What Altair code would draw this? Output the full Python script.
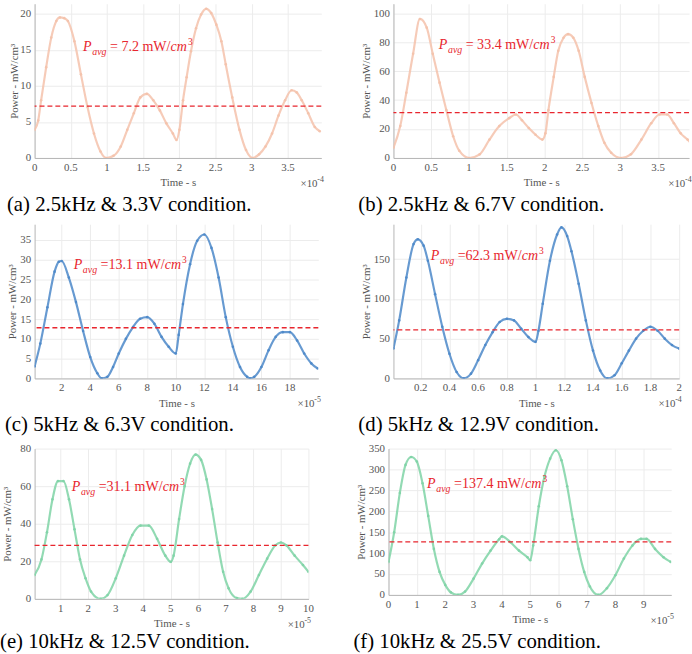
import altair as alt
import pandas as pd

# ---------------- data (time in units of the axis multiplier) ----------------
a_t = [0, 0.05, 0.09, 0.16, 0.23, 0.30, 0.35, 0.41, 0.46, 0.55, 0.64, 0.73, 0.82, 0.91, 0.99, 1.09, 1.19, 1.28,
       1.37, 1.46, 1.55, 1.64, 1.73, 1.82, 1.91, 1.96, 2.0, 2.05, 2.10, 2.16, 2.23, 2.30, 2.37, 2.44, 2.51, 2.58,
       2.64, 2.73, 2.83, 2.92, 3.01, 3.10, 3.19, 3.28, 3.37, 3.46, 3.55, 3.62, 3.69, 3.78, 3.87, 3.94]
a_p = [3.9, 5.2, 8.0, 12.6, 16.7, 19.0, 19.5, 19.4, 19.0, 16.2, 11.6, 7.1, 3.4, 0.9, 0.0, 0.3, 1.6, 3.9,
       6.2, 8.4, 8.9, 8.0, 6.6, 4.8, 3.4, 2.5, 3.9, 8.0, 11.2, 14.8, 18.0, 19.9, 20.7, 20.1, 18.5, 16.2,
       13.0, 8.4, 3.9, 1.1, 0.0, 0.5, 1.6, 3.4, 5.9, 8.0, 9.4, 9.1, 8.0, 6.2, 4.3, 3.7]

b_t = [0, 0.09, 0.17, 0.26, 0.35, 0.44, 0.52, 0.61, 0.70, 0.79, 0.87, 1.0, 1.14, 1.27, 1.40, 1.53, 1.62, 1.70,
       1.79, 1.88, 1.97, 2.01, 2.05, 2.12, 2.18, 2.25, 2.31, 2.38, 2.45, 2.53, 2.62, 2.71, 2.79, 2.88, 3.01,
       3.14, 3.28, 3.41, 3.52, 3.62, 3.71, 3.80, 3.89, 3.95]
b_p = [7, 22, 45, 72, 96, 90, 72, 52, 33, 15, 5, 0, 2.5, 12.7, 22, 27.5, 30, 26,
       20.7, 16, 12.7, 17, 33, 56, 74, 83, 85.5, 83, 74, 56, 38, 22, 10.5, 3.6, 0,
       2.5, 12.7, 24, 30, 30, 24, 17, 12.7, 9.3]

c_t = [0.1, 0.5, 1.0, 1.5, 1.8, 2.0, 2.5, 3.0, 3.5, 4.0, 4.5, 4.8, 5.2, 5.6, 6.0, 6.5, 7.0, 7.5, 8.0, 8.5,
       9.0, 9.5, 10.0, 10.2, 10.5, 11.0, 11.5, 12.0, 12.5, 13.0, 13.5, 14.0, 14.5, 15.0, 15.2, 15.5, 16.0,
       16.5, 17.0, 17.5, 18.0, 18.5, 19.0, 19.5, 19.95]
c_p = [3, 8.8, 18, 27, 29.5, 29.7, 25.5, 19.3, 12, 5.4, 1.3, 0, 0.4, 2.9, 6.3, 10, 13, 15.1, 15.5, 13.8,
       10.5, 8, 6.3, 11, 18.8, 28.9, 34.8, 36.4, 33, 25.5, 15.5, 8, 2.9, 0.4, 0, 0.4, 2.9,
       7.1, 10.5, 11.7, 11.7, 9.6, 6.3, 3.8, 2.5]

d_t = [0.01, 0.05, 0.10, 0.15, 0.18, 0.22, 0.25, 0.30, 0.35, 0.40, 0.45, 0.50, 0.55, 0.60, 0.65, 0.70, 0.75,
       0.80, 0.85, 0.90, 0.95, 1.00, 1.02, 1.05, 1.10, 1.15, 1.18, 1.22, 1.25, 1.30, 1.35, 1.40, 1.45, 1.50,
       1.55, 1.60, 1.65, 1.70, 1.75, 1.80, 1.85, 1.90, 1.95, 2.00]
d_p = [37.5, 73, 127, 169, 175, 167, 148, 106, 65, 31, 8, 0, 6, 23, 42, 58, 71,
       75, 73, 62.5, 52, 46, 60, 94, 148, 181, 190, 179, 160, 119, 73, 35, 10, 0,
       4, 19, 35, 50, 60, 65, 60, 50, 42, 37.5]

e_t = [0.05, 0.3, 0.5, 0.7, 0.9, 1.1, 1.3, 1.5, 1.7, 1.9, 2.1, 2.45, 2.7, 3.0, 3.3, 3.6, 3.9, 4.2, 4.5, 4.8,
       5.0, 5.1, 5.3, 5.5, 5.7, 5.9, 6.1, 6.3, 6.5, 6.7, 6.9, 7.1, 7.4, 7.6, 7.9, 8.2, 8.5, 8.8, 9.0, 9.2,
       9.5, 9.8, 10.0]
e_p = [12.7, 21, 35.5, 53, 62.7, 62.7, 53, 37, 21, 11, 3.9, 0, 2, 11, 23, 34, 39, 39, 32, 23,
       19.7, 23, 42.5, 60, 72, 76.8, 74, 63.6, 47.8, 30, 14.4, 5.6, 0.4, 0, 3.9, 12.7, 21.4, 28.5, 30, 28.5,
       23, 18, 14.4]

f_t = [0, 0.2, 0.4, 0.6, 0.8, 1.0, 1.2, 1.4, 1.6, 1.8, 2.0, 2.2, 2.45, 2.7, 3.0, 3.3, 3.6, 3.9, 4.0, 4.3,
       4.6, 4.9, 5.0, 5.1, 5.3, 5.5, 5.7, 5.9, 6.1, 6.3, 6.5, 6.7, 6.9, 7.1, 7.4, 7.7, 8.0, 8.3, 8.6, 8.9,
       9.1, 9.4, 9.7, 9.95]
f_p = [79, 150, 244, 311, 330, 319, 267, 189, 110, 55, 24, 6, 0, 8, 39, 75, 106, 133, 140, 126,
       106, 90, 83, 118, 212, 283, 326, 346, 322, 260, 181, 110, 55, 20, 0, 16, 47, 87, 118, 134,
       134, 110, 90, 79]

avg_lines = [7.2, 31.3, 12.8, 61, 28.5, 127]
avg_values = ["7.2", "33.4", "13.1", "62.3", "31.1", "137.4"]
captions = ["(a) 2.5kHz & 3.3V condition.", "(b) 2.5kHz & 6.7V condition.",
            "(c) 5kHz & 6.3V condition.", "(d) 5kHz & 12.9V condition.",
            "(e) 10kHz & 12.5V condition.", "(f) 10kHz & 25.5V condition."]
exponents = ["-4", "-4", "-5", "-4", "-5", "-5"]
x_ticks = [[0, 0.5, 1, 1.5, 2, 2.5, 3, 3.5], [0, 0.5, 1, 1.5, 2, 2.5, 3, 3.5],
           [2, 4, 6, 8, 10, 12, 14, 16, 18], [0.2, 0.4, 0.6, 0.8, 1, 1.2, 1.4, 1.6, 1.8, 2],
           [1, 2, 3, 4, 5, 6, 7, 8, 9, 10], [0, 1, 2, 3, 4, 5, 6, 7, 8, 9]]
y_ticks = [[0, 5, 10, 15, 20], [0, 20, 40, 60, 80, 100], [0, 5, 10, 15, 20, 25, 30, 35],
           [0, 50, 100, 150], [0, 20, 40, 60, 80], [0, 50, 100, 150, 200, 250, 300, 350]]
x_domains = [[0, 3.96], [0, 3.91], [0.1, 19.99], [0.01, 2.0], [0.05, 10.0], [0, 9.97]]
y_domains = [[0, 21.4], [0, 106.5], [0, 39], [0, 194], [0, 80], [0, 350]]
ann_x = [0.67, 0.60, 2.84, 0.27, 1.40, 1.36]
ann_y = [14.8, 75.5, 27.6, 149, 57.5, 255]
ann_space = [True, True, False, False, False, False]

FONT = "Liberation Serif"
RED = "#e8262e"
GRAY = "#555555"
COLORS = ["#f4c2ab", "#f4c2ab", "#4c88c9", "#4c88c9", "#7fd3a6", "#7fd3a6"]

REG = {" ": 250, "=": 564, ".": 250, "m": 778, "W": 944, "/": 278}
for dch in "0123456789":
    REG[dch] = 500
ITA = {"P": 611, "a": 500, "v": 444, "g": 500, "c": 444, "m": 722}


def tw(s, size, table):
    return sum(table.get(ch, 500) for ch in s) * size / 1000.0


def fmt(v):
    return ("%g" % v)


def panel(i, t, p, w, h, offset, ytitle_pad=2):
    df = pd.DataFrame({"t": t, "p": p})
    xs = alt.Scale(domain=x_domains[i], nice=False, zero=False)
    ys = alt.Scale(domain=y_domains[i], nice=False)
    base = alt.Chart(df)
    # x tick labels are drawn as a text layer on the x scale; the axis keeps line, grid and title
    xaxis = alt.Axis(values=x_ticks[i], tickCount=40, title="Time - s", labels=False,
                     titlePadding=19)
    yaxis = alt.Axis(values=y_ticks[i], tickCount=40, title="Power - mW/cm³", format=".2~f",
                     labelOverlap=False, labelFlush=False, titlePadding=ytitle_pad)
    line = base.mark_line(color=COLORS[i], strokeWidth=2.2, opacity=0.85,
                          interpolate="monotone", clip=True).encode(
        x=alt.X("t:Q", scale=xs, axis=xaxis),
        y=alt.Y("p:Q", scale=ys, axis=yaxis),
    )
    pts = base.mark_circle(color=COLORS[i], size=7, opacity=0.9, clip=True).encode(
        x=alt.X("t:Q", scale=xs, axis=xaxis), y=alt.Y("p:Q", scale=ys, axis=yaxis))
    rule = alt.Chart(pd.DataFrame({"t": [avg_lines[i]]})).mark_rule(
        color=RED, strokeDash=[5, 3], strokeWidth=1.4).encode(y=alt.Y("t:Q", scale=ys, axis=yaxis))

    xlab_df = pd.DataFrame({"t": x_ticks[i], "lab": [fmt(v) for v in x_ticks[i]]})
    xlabels = alt.Chart(xlab_df).mark_text(
        fontSize=11, font=FONT, color=GRAY, align="center", baseline="top").encode(
        x=alt.X("t:Q", scale=xs, axis=xaxis), y=alt.value(h + 4), text="lab:N")

    FS = 14.2
    SUB = 10
    pieces = []
    x0 = 0.0
    pieces.append(("P", x0, 0, FS, "italic"))
    x0 += tw("P", FS, ITA) + 0.6
    pieces.append(("avg", x0, 4, SUB, "italic"))
    x0 += tw("avg", SUB, ITA) + 3.5
    rest = ("= " if ann_space[i] else "=") + avg_values[i] + " mW/"
    pieces.append((rest, x0, 0, FS, "normal"))
    x0 += tw(rest, FS, REG)
    pieces.append(("cm", x0, 0, FS, "italic"))
    x0 += tw("cm", FS, ITA) + 1
    pieces.append(("3", x0, -6, 9.5, "normal"))
    texts = []
    ann_df = pd.DataFrame({"t": [ann_x[i]], "p": [ann_y[i]]})
    for txt, dx, dy, size, style in pieces:
        texts.append(alt.Chart(ann_df).mark_text(
            text=txt, dx=dx, dy=dy, fontSize=size, fontStyle=style, font=FONT, color=RED,
            align="left", baseline="alphabetic").encode(
            x=alt.X("t:Q", scale=xs, axis=xaxis), y=alt.Y("p:Q", scale=ys, axis=yaxis)))

    mult = alt.Chart(pd.DataFrame({"k": [0]})).mark_text(
        text="×10", fontSize=11, font=FONT, color=GRAY, align="left", baseline="alphabetic").encode(
        x=alt.value(w - 21), y=alt.value(h + 29))
    sup = alt.Chart(pd.DataFrame({"k": [0]})).mark_text(
        text=exponents[i], fontSize=8, font=FONT, color=GRAY, align="left", baseline="alphabetic").encode(
        x=alt.value(w - 4), y=alt.value(h + 24))

    return alt.layer(line, pts, rule, xlabels, *texts, mult, sup).properties(
        width=w, height=h,
        title=alt.Title(captions[i], orient="bottom", anchor="start", frame="bounds",
                        fontSize=21, font=FONT, fontWeight="normal", color="black",
                        offset=offset, dx=-2),
    )


pa = panel(0, a_t, a_p, 290, 156, 6, ytitle_pad=0)
pb = panel(1, b_t, b_p, 299, 156, 6)
pc = panel(2, c_t, c_p, 287, 156, 5)
pd_ = panel(3, d_t, d_p, 289, 156, 5)
pe = panel(4, e_t, e_p, 277, 152, 2, ytitle_pad=7)
pf = panel(5, f_t, f_p, 286, 148, 6)

row1 = alt.hconcat(pa, pb, spacing=34)
row2 = alt.hconcat(pc, pd_, spacing=37)
row3 = alt.hconcat(pe, pf, spacing=39)

lower = alt.vconcat(row2, row3, spacing=8)
chart = alt.vconcat(row1, lower, spacing=9).properties(
    padding={"left": 0, "top": 0, "right": 0, "bottom": 0},
    background="white",
).configure_axis(
    labelFont=FONT, titleFont=FONT, labelFontSize=11, titleFontSize=11,
    labelColor=GRAY, titleColor=GRAY, titleFontWeight="normal",
    domainColor="#b5b5b5", gridColor="#ececec", ticks=False,
    labelPadding=4,
).configure_view(stroke=None)

chart.save("out.html", embed_options={"renderer": "svg", "actions": False})
